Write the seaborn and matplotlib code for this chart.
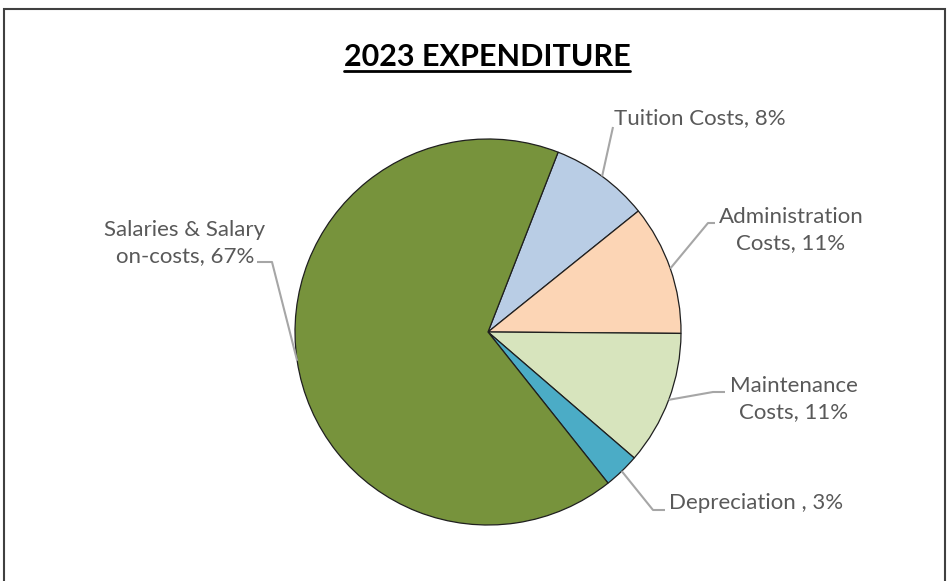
import matplotlib.pyplot as plt
import seaborn as sns
import numpy as np
from matplotlib.patches import Rectangle

# Dados (em %), na ordem do gráfico, a partir de "Tuition Costs"
labels = ['Tuition Costs', 'Administration\nCosts', 'Maintenance\nCosts',
          'Depreciation ', 'Salaries & Salary\non-costs']
values = [8.3, 10.9, 11.2, 3.0, 66.6]
colors = ['#B9CDE5', '#FCD5B5', '#D7E4BD', '#4BACC6', '#77933C']

sns.set_theme(style='white')
plt.rcParams['font.family'] = ['Lato', 'DejaVu Sans']

W, H = 953, 581
fig = plt.figure(figsize=(W / 100, H / 100), dpi=100)
ax = fig.add_axes([0, 0, 1, 1])


def px(x, y):
    # pixel (topo=0) -> coordenadas de dados
    return x, H - y


cx, cy = px(488, 332)
R = 193
wedges, _ = ax.pie(values, colors=colors, startangle=68.7, counterclock=False,
                   center=(cx, cy), radius=R,
                   wedgeprops=dict(edgecolor='#1f1f1f', linewidth=0.9))
ax.set_xlim(0, W)
ax.set_ylim(0, H)
ax.set_aspect('auto')
ax.axis('off')

total = sum(values)
pcts = [v / total * 100 for v in values]

# posição dos rótulos: (x, y, alinhamento) e cotovelo da linha guia
label_pos = [
    (614, 118, 'left', [(613, 127)]),
    (791, 230, 'center', [(708, 223), (715, 223)]),
    (794, 399, 'center', [(713, 392), (725, 392)]),
    (669, 503, 'left', [(653, 510), (665, 510)]),
    (185, 243, 'center', [(272, 262), (257, 262)]),
]

for w, lab, p, (tx, ty, ha, elbow) in zip(wedges, labels, pcts, label_pos):
    mid = np.deg2rad((w.theta1 + w.theta2) / 2)
    ax0 = cx + R * np.cos(mid)
    ay0 = cy + R * np.sin(mid)
    xs = [ax0] + [px(*e)[0] for e in elbow]
    ys = [ay0] + [px(*e)[1] for e in elbow]
    ax.plot(xs, ys, color='#A6A6A6', linewidth=1.5, solid_capstyle='butt')
    ax.text(*px(tx, ty), f'{lab}, {p:.0f}%', ha=ha, va='center',
            fontsize=16, color='#595959', linespacing=1.35)

# título sublinhado
title = ax.text(*px(487, 57), '2023 EXPENDITURE', ha='center', va='center',
                fontsize=22, fontweight='bold', color='black')
fig.canvas.draw()
bb = title.get_window_extent().transformed(ax.transData.inverted())
ax.plot([bb.x0, bb.x1], [H - 71, H - 71], color='black', linewidth=2)

# moldura
fig.patches.append(Rectangle((4 / W, -0.05), 941 / W, 1.05 - 9 / H,
                             transform=fig.transFigure, fill=False,
                             edgecolor='#404040', linewidth=1.5))

fig.savefig('out.png', dpi=100)
